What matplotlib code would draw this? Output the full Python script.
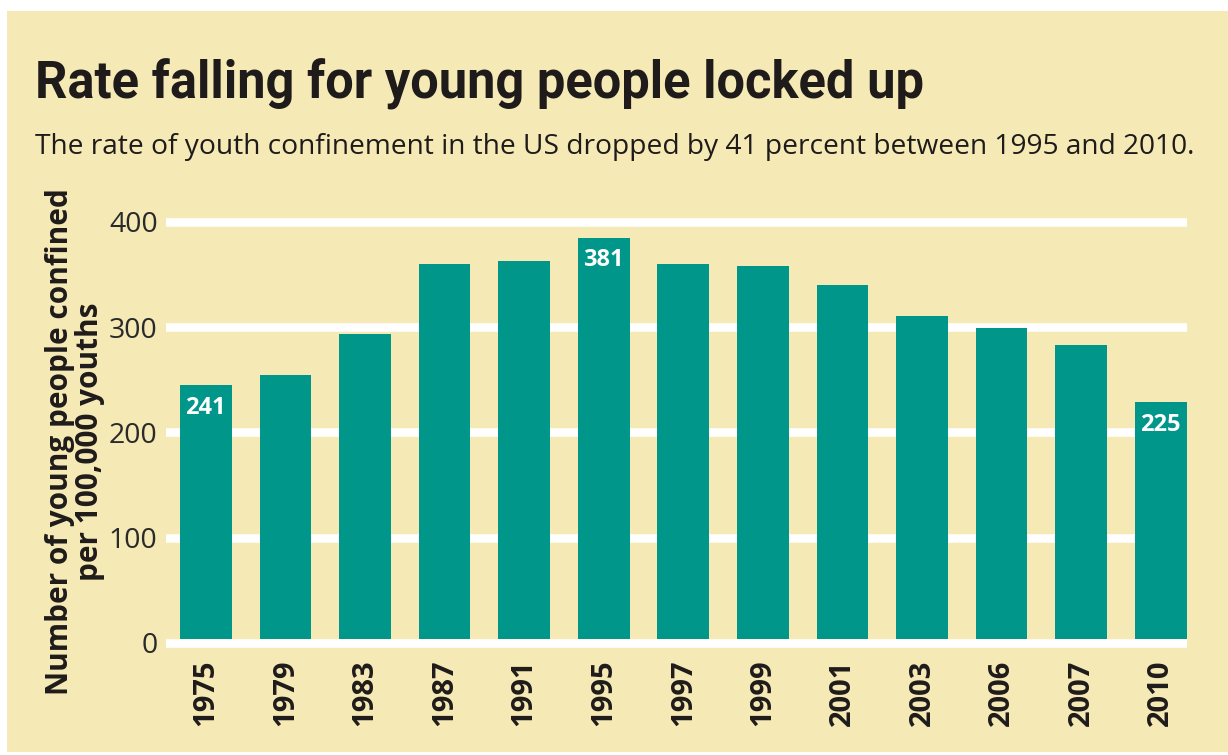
import matplotlib
matplotlib.use("Agg")
import matplotlib.pyplot as plt
from matplotlib import font_manager
from matplotlib.transforms import offset_copy

years = ["1975", "1979", "1983", "1987", "1991", "1995", "1997", "1999",
         "2001", "2003", "2006", "2007", "2010"]
rates = [241, 251, 290, 356, 359, 381, 356, 354, 336, 307, 295, 279, 225]
labeled = {"1975": 241, "1995": 381, "2010": 225}
yticks = [0, 100, 200, 300, 400]

title = "Rate falling for young people locked up"
subtitle = "The rate of youth confinement in the US dropped by 41 percent between 1995 and 2010."
ylabel = "Number of young people confined\nper 100,000 youths"

BG = "#f5e9b6"
TEAL = "#00968a"
DARK = "#1e1b1a"

avail = {f.name for f in font_manager.fontManager.ttflist}
def pick(*names):
    for n in names:
        if n in avail:
            return n
    return "DejaVu Sans"

cond = pick("Liberation Sans Narrow", "Roboto", "Open Sans")
body = pick("Open Sans", "Noto Sans", "Lato")

W, H = 1228, 755
fig = plt.figure(figsize=(W / 100, H / 100), dpi=100, facecolor="white")
fig.patches.append(plt.Rectangle((7 / W, 3 / H), 1 - 7 / W, (H - 14) / H,
                                 transform=fig.transFigure, facecolor=BG,
                                 edgecolor="none", zorder=-10))

ax = fig.add_axes([166 / W, (755 - 651.4) / H, (1187 - 166) / W, (651.4 - 216.7) / H])
ax.set_zorder(2)
ax.set_facecolor("none")
x = list(range(len(years)))
bars = ax.bar(x, rates, width=0.65, color=TEAL, zorder=3)
# bars sit on top of the thick baseline (raised by half its width)
lift = offset_copy(ax.transData, fig=fig, x=0, y=4, units="dots")
for b in bars:
    b.set_transform(lift)
for yv in yticks:
    ax.axhline(yv, color="white", lw=6.2, zorder=1)
ax.set_xlim(-0.5, len(years) - 1 + 0.33)
ax.set_ylim(-8, 405)
for s in ax.spines.values():
    s.set_visible(False)
ax.set_yticks(yticks)
ax.set_yticklabels([str(v) for v in yticks], fontsize=20.5, color="#2a2a2a",
                   family=body)
ax.tick_params(axis="y", length=0, pad=6)
ax.set_xticks(x)
ax.set_xticklabels(years, rotation=90, fontsize=21, fontweight="bold",
                   color=DARK, family=body)
ax.tick_params(axis="x", length=0, pad=6)

for i, (yr, v) in enumerate(zip(years, rates)):
    if yr in labeled:
        ax.text(i, v - 10, str(labeled[yr]), ha="center", va="top",
                color="white", fontsize=17, fontweight="bold", family=body,
                zorder=4, transform=lift)

fig.canvas.draw()
r = fig.canvas.get_renderer()

def fit(t, target_w):
    bb = t.get_window_extent(renderer=r)
    t.set_fontsize(t.get_fontsize() * target_w / bb.width)

t1 = fig.text(35 / W, (H - 98) / H, title, fontsize=44, fontweight="bold",
              family=cond, color=DARK, ha="left", va="baseline")
fit(t1, 890)
t2 = fig.text(35 / W, (H - 154) / H, subtitle, fontsize=20, family=body,
              color=DARK, ha="left", va="baseline")
fit(t2, 1160)
t3 = fig.text(75 / W, (H - 442) / H, ylabel, rotation=90, fontsize=21,
              fontweight="bold", family=body, color=DARK, ha="center",
              va="center", multialignment="center", linespacing=1.0)
bb = t3.get_window_extent(renderer=r)
t3.set_fontsize(t3.get_fontsize() * 505 / bb.height)

fig.savefig("out.png", dpi=100, facecolor="white")
